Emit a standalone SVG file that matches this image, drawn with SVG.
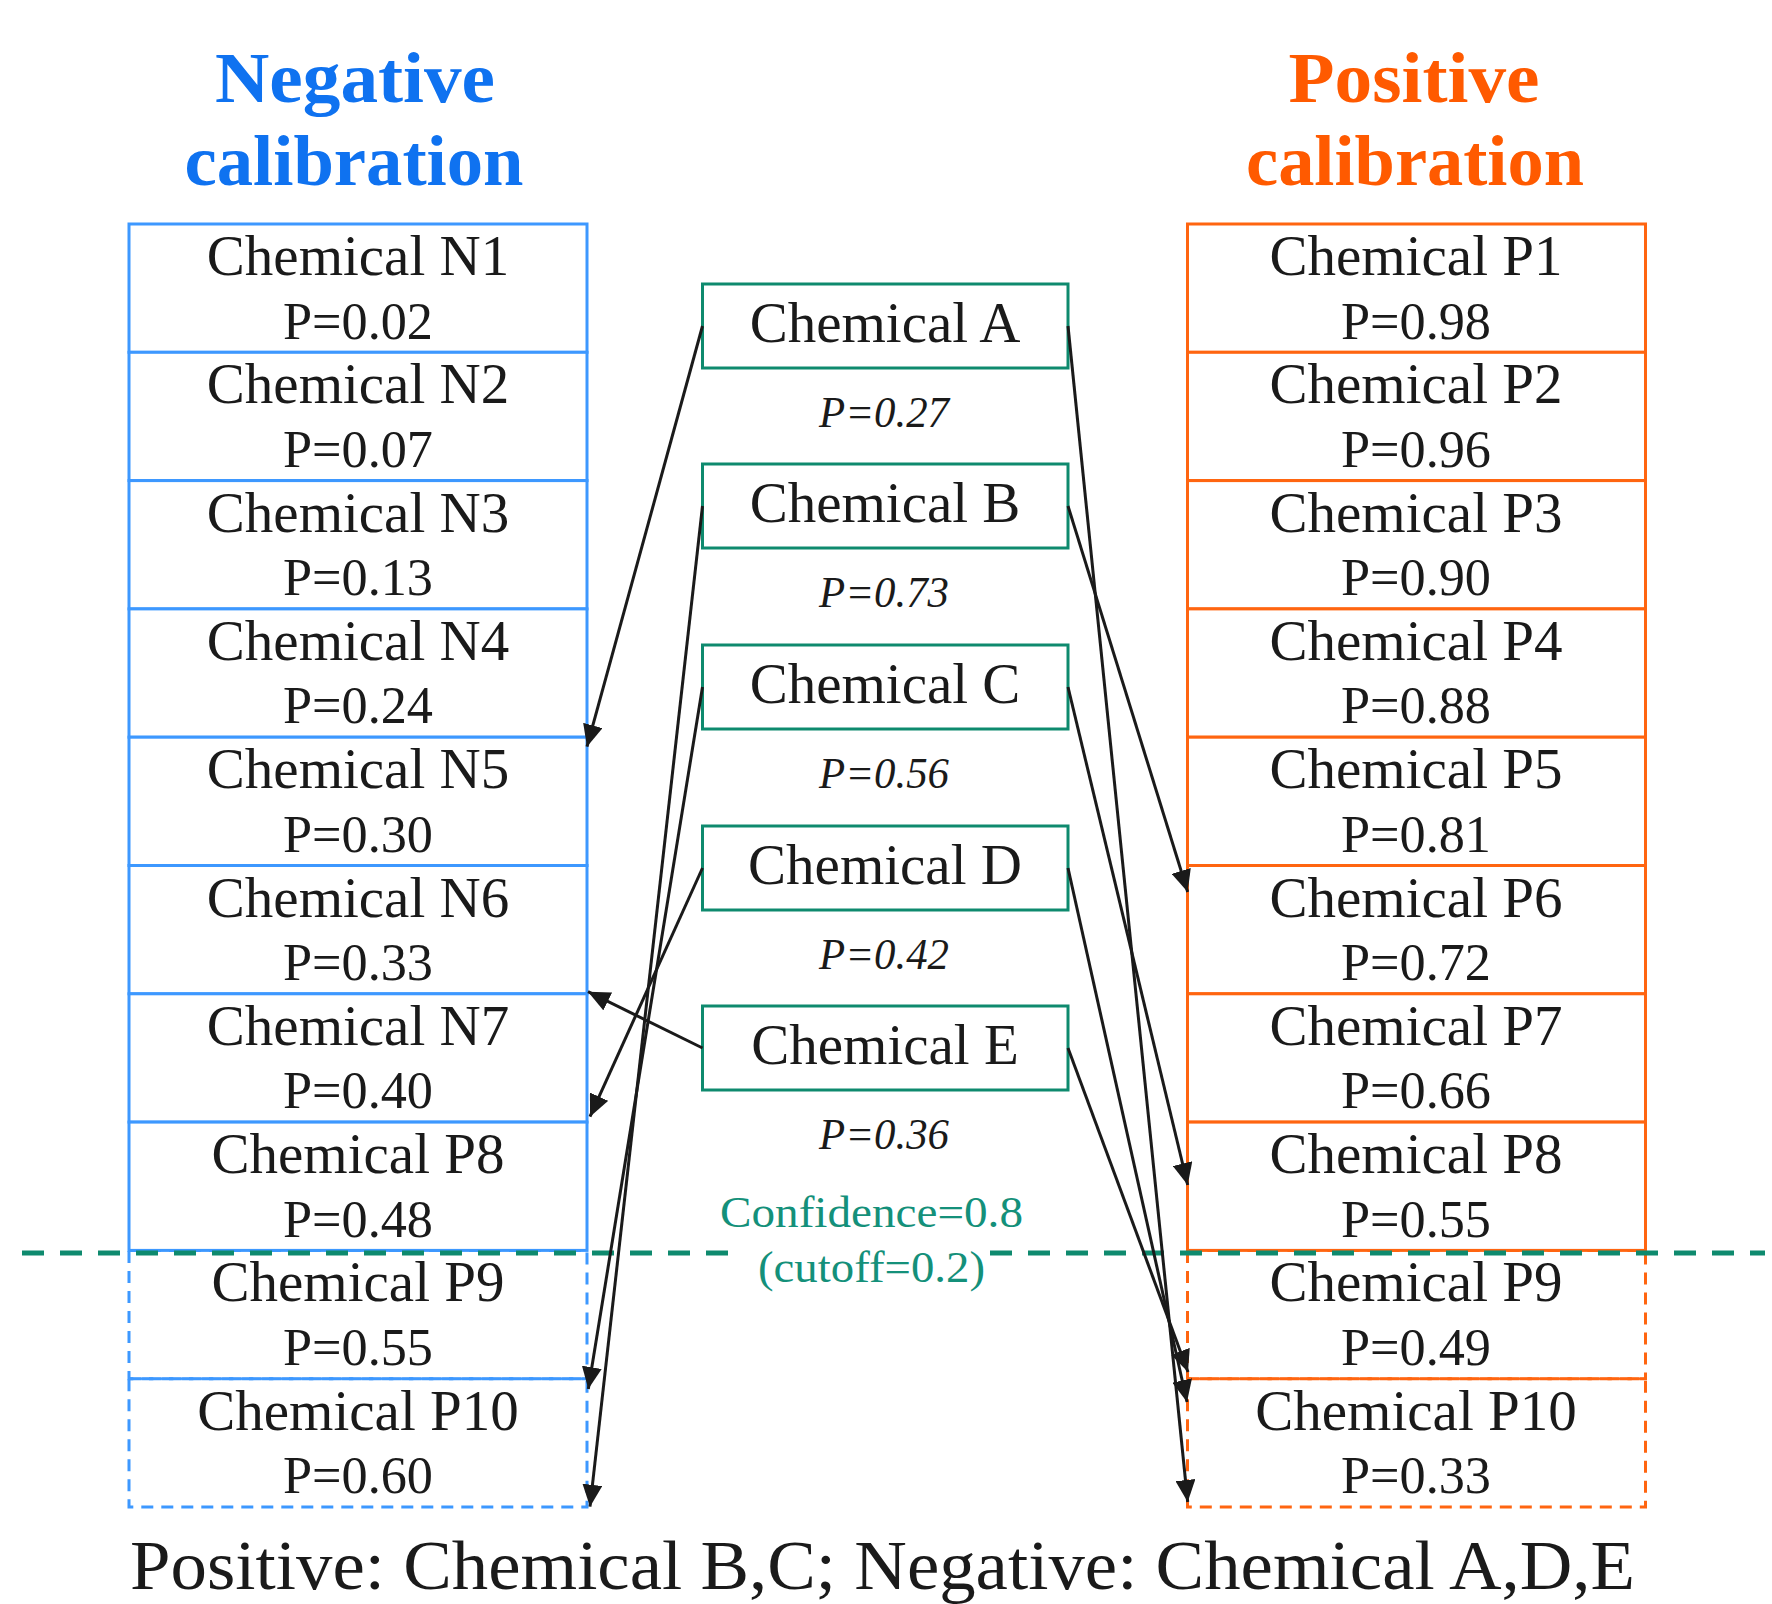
<svg xmlns="http://www.w3.org/2000/svg" width="1772" height="1604" viewBox="0 0 1772 1604">
<style>
.bg{fill:#ffffff}
.neg{fill:#ffffff;stroke:#3d98ff;stroke-width:3}
.negd{fill:none;stroke:#3d98ff;stroke-width:3;stroke-dasharray:12 8}
.pos{fill:#ffffff;stroke:#ff6510;stroke-width:3}
.posd{fill:none;stroke:#ff6510;stroke-width:3;stroke-dasharray:12 8}
.mid{fill:#ffffff;stroke:#0e8a6e;stroke-width:3}
.t1{font-family:"Liberation Serif","Times New Roman",serif;font-size:57px;fill:#1a1a1a;text-anchor:middle}
.t2{font-family:"Liberation Serif","Times New Roman",serif;font-size:52px;fill:#1a1a1a;text-anchor:middle}
.ti{font-family:"Liberation Serif","Times New Roman",serif;font-size:44px;font-style:italic;fill:#1a1a1a;text-anchor:middle}
.title{font-family:"Liberation Serif","Times New Roman",serif;font-size:72px;font-weight:bold;text-anchor:middle}
.conf{font-family:"Liberation Serif","Times New Roman",serif;font-size:45px;fill:#14907a;text-anchor:middle}
.arr{stroke:#1a1a1a;stroke-width:3;fill:none;marker-end:url(#ah)}
.cut{stroke:#0e8a6e;stroke-width:5;stroke-dasharray:22 16;fill:none}
</style>
<defs>
<marker id="ah" markerUnits="userSpaceOnUse" markerWidth="22" markerHeight="20" refX="22" refY="10" orient="auto">
<path d="M0,0 L22,10 L0,20 Z" fill="#1a1a1a"/>
</marker>
</defs>
<rect class="bg" x="0" y="0" width="1772" height="1604"/>

<g id="titles">
<text class="title" x="355" y="102" fill="#0f72f0" textLength="280" lengthAdjust="spacingAndGlyphs">Negative</text>
<text class="title" x="354" y="185" fill="#0f72f0" textLength="339" lengthAdjust="spacingAndGlyphs">calibration</text>
<text class="title" x="1414" y="102" fill="#ff5a00" textLength="251" lengthAdjust="spacingAndGlyphs">Positive</text>
<text class="title" x="1415" y="185" fill="#ff5a00" textLength="338" lengthAdjust="spacingAndGlyphs">calibration</text>
</g>

<g id="negative-column">
<g id="neg-N1"><rect class="neg" x="129" y="224" width="458" height="128.3"/><text class="t1" x="358" y="275">Chemical N1</text><text class="t2" x="358" y="338.5" textLength="150" lengthAdjust="spacingAndGlyphs">P=0.02</text></g>
<g id="neg-N2"><rect class="neg" x="129" y="352.3" width="458" height="128.3"/><text class="t1" x="358" y="403.3">Chemical N2</text><text class="t2" x="358" y="466.8" textLength="150" lengthAdjust="spacingAndGlyphs">P=0.07</text></g>
<g id="neg-N3"><rect class="neg" x="129" y="480.6" width="458" height="128.3"/><text class="t1" x="358" y="531.6">Chemical N3</text><text class="t2" x="358" y="595.1" textLength="150" lengthAdjust="spacingAndGlyphs">P=0.13</text></g>
<g id="neg-N4"><rect class="neg" x="129" y="608.9" width="458" height="128.3"/><text class="t1" x="358" y="659.9">Chemical N4</text><text class="t2" x="358" y="723.4" textLength="150" lengthAdjust="spacingAndGlyphs">P=0.24</text></g>
<g id="neg-N5"><rect class="neg" x="129" y="737.2" width="458" height="128.3"/><text class="t1" x="358" y="788.2">Chemical N5</text><text class="t2" x="358" y="851.7" textLength="150" lengthAdjust="spacingAndGlyphs">P=0.30</text></g>
<g id="neg-N6"><rect class="neg" x="129" y="865.5" width="458" height="128.3"/><text class="t1" x="358" y="916.5">Chemical N6</text><text class="t2" x="358" y="980" textLength="150" lengthAdjust="spacingAndGlyphs">P=0.33</text></g>
<g id="neg-N7"><rect class="neg" x="129" y="993.8" width="458" height="128.3"/><text class="t1" x="358" y="1044.8">Chemical N7</text><text class="t2" x="358" y="1108.3" textLength="150" lengthAdjust="spacingAndGlyphs">P=0.40</text></g>
<g id="neg-P8"><rect class="neg" x="129" y="1122.1" width="458" height="128.3"/><text class="t1" x="358" y="1173.1">Chemical P8</text><text class="t2" x="358" y="1236.6" textLength="150" lengthAdjust="spacingAndGlyphs">P=0.48</text></g>
<g id="neg-P9"><rect class="negd" x="129" y="1250.4" width="458" height="128.3"/><line x1="129" y1="1378.7" x2="587" y2="1378.7" stroke="#3d98ff" stroke-width="2"/><text class="t1" x="358" y="1301.4">Chemical P9</text><text class="t2" x="358" y="1364.9" textLength="150" lengthAdjust="spacingAndGlyphs">P=0.55</text></g>
<g id="neg-P10"><rect class="negd" x="129" y="1378.7" width="458" height="128.3"/><text class="t1" x="358" y="1429.7">Chemical P10</text><text class="t2" x="358" y="1493.2" textLength="150" lengthAdjust="spacingAndGlyphs">P=0.60</text></g>
</g>

<g id="positive-column">
<g id="pos-P1"><rect class="pos" x="1187.5" y="224" width="458" height="128.3"/><text class="t1" x="1416" y="275">Chemical P1</text><text class="t2" x="1416" y="338.5" textLength="150" lengthAdjust="spacingAndGlyphs">P=0.98</text></g>
<g id="pos-P2"><rect class="pos" x="1187.5" y="352.3" width="458" height="128.3"/><text class="t1" x="1416" y="403.3">Chemical P2</text><text class="t2" x="1416" y="466.8" textLength="150" lengthAdjust="spacingAndGlyphs">P=0.96</text></g>
<g id="pos-P3"><rect class="pos" x="1187.5" y="480.6" width="458" height="128.3"/><text class="t1" x="1416" y="531.6">Chemical P3</text><text class="t2" x="1416" y="595.1" textLength="150" lengthAdjust="spacingAndGlyphs">P=0.90</text></g>
<g id="pos-P4"><rect class="pos" x="1187.5" y="608.9" width="458" height="128.3"/><text class="t1" x="1416" y="659.9">Chemical P4</text><text class="t2" x="1416" y="723.4" textLength="150" lengthAdjust="spacingAndGlyphs">P=0.88</text></g>
<g id="pos-P5"><rect class="pos" x="1187.5" y="737.2" width="458" height="128.3"/><text class="t1" x="1416" y="788.2">Chemical P5</text><text class="t2" x="1416" y="851.7" textLength="150" lengthAdjust="spacingAndGlyphs">P=0.81</text></g>
<g id="pos-P6"><rect class="pos" x="1187.5" y="865.5" width="458" height="128.3"/><text class="t1" x="1416" y="916.5">Chemical P6</text><text class="t2" x="1416" y="980" textLength="150" lengthAdjust="spacingAndGlyphs">P=0.72</text></g>
<g id="pos-P7"><rect class="pos" x="1187.5" y="993.8" width="458" height="128.3"/><text class="t1" x="1416" y="1044.8">Chemical P7</text><text class="t2" x="1416" y="1108.3" textLength="150" lengthAdjust="spacingAndGlyphs">P=0.66</text></g>
<g id="pos-P8"><rect class="pos" x="1187.5" y="1122.1" width="458" height="128.3"/><text class="t1" x="1416" y="1173.1">Chemical P8</text><text class="t2" x="1416" y="1236.6" textLength="150" lengthAdjust="spacingAndGlyphs">P=0.55</text></g>
<g id="pos-P9"><rect class="posd" x="1187.5" y="1250.4" width="458" height="128.3"/><line x1="1187.5" y1="1378.7" x2="1645.5" y2="1378.7" stroke="#ff6510" stroke-width="2"/><text class="t1" x="1416" y="1301.4">Chemical P9</text><text class="t2" x="1416" y="1364.9" textLength="150" lengthAdjust="spacingAndGlyphs">P=0.49</text></g>
<g id="pos-P10"><rect class="posd" x="1187.5" y="1378.7" width="458" height="128.3"/><text class="t1" x="1416" y="1429.7">Chemical P10</text><text class="t2" x="1416" y="1493.2" textLength="150" lengthAdjust="spacingAndGlyphs">P=0.33</text></g>
</g>

<g id="cutoff-line">
<line class="cut" x1="22" y1="1253" x2="733" y2="1253"/>
<line class="cut" x1="990" y1="1253" x2="1765" y2="1253"/>
</g>

<g id="middle">
<g id="chem-A"><rect class="mid" x="702.5" y="284" width="365.5" height="84"/><text class="t1" x="885" y="342">Chemical A</text><text class="ti" x="884" y="427" textLength="130" lengthAdjust="spacingAndGlyphs">P=0.27</text></g>
<g id="chem-B"><rect class="mid" x="702.5" y="464" width="365.5" height="84"/><text class="t1" x="885" y="522">Chemical B</text><text class="ti" x="884" y="607" textLength="130" lengthAdjust="spacingAndGlyphs">P=0.73</text></g>
<g id="chem-C"><rect class="mid" x="702.5" y="645" width="365.5" height="84"/><text class="t1" x="885" y="703">Chemical C</text><text class="ti" x="884" y="788" textLength="130" lengthAdjust="spacingAndGlyphs">P=0.56</text></g>
<g id="chem-D"><rect class="mid" x="702.5" y="826" width="365.5" height="84"/><text class="t1" x="885" y="884">Chemical D</text><text class="ti" x="884" y="969" textLength="130" lengthAdjust="spacingAndGlyphs">P=0.42</text></g>
<g id="chem-E"><rect class="mid" x="702.5" y="1006" width="365.5" height="84"/><text class="t1" x="885" y="1064">Chemical E</text><text class="ti" x="884" y="1149" textLength="130" lengthAdjust="spacingAndGlyphs">P=0.36</text></g>
</g>

<g id="confidence-label">
<text class="conf" x="871.5" y="1227" textLength="303" lengthAdjust="spacingAndGlyphs">Confidence=0.8</text>
<text class="conf" x="871.5" y="1282" textLength="227" lengthAdjust="spacingAndGlyphs">(cutoff=0.2)</text>
</g>

<g id="connectors">
<line class="arr" x1="702.5" y1="326" x2="587" y2="746.7"/>
<line class="arr" x1="702.5" y1="506" x2="590" y2="1506.7"/>
<line class="arr" x1="702.5" y1="687" x2="588.3" y2="1389"/>
<line class="arr" x1="702.5" y1="868" x2="590" y2="1116.7"/>
<line class="arr" x1="702.5" y1="1048" x2="588" y2="991.7"/>
<line class="arr" x1="1068" y1="326" x2="1187.7" y2="1502"/>
<line class="arr" x1="1068" y1="506" x2="1187.7" y2="892"/>
<line class="arr" x1="1068" y1="687" x2="1187.7" y2="1185"/>
<line class="arr" x1="1068" y1="868" x2="1187" y2="1402"/>
<line class="arr" x1="1068" y1="1048" x2="1188" y2="1372"/>
</g>

<g id="summary">
<text x="130" y="1589" font-family="'Liberation Serif','Times New Roman',serif" font-size="70" fill="#1a1a1a" textLength="1505" lengthAdjust="spacingAndGlyphs">Positive: Chemical B,C; Negative: Chemical A,D,E</text>
</g>
</svg>
